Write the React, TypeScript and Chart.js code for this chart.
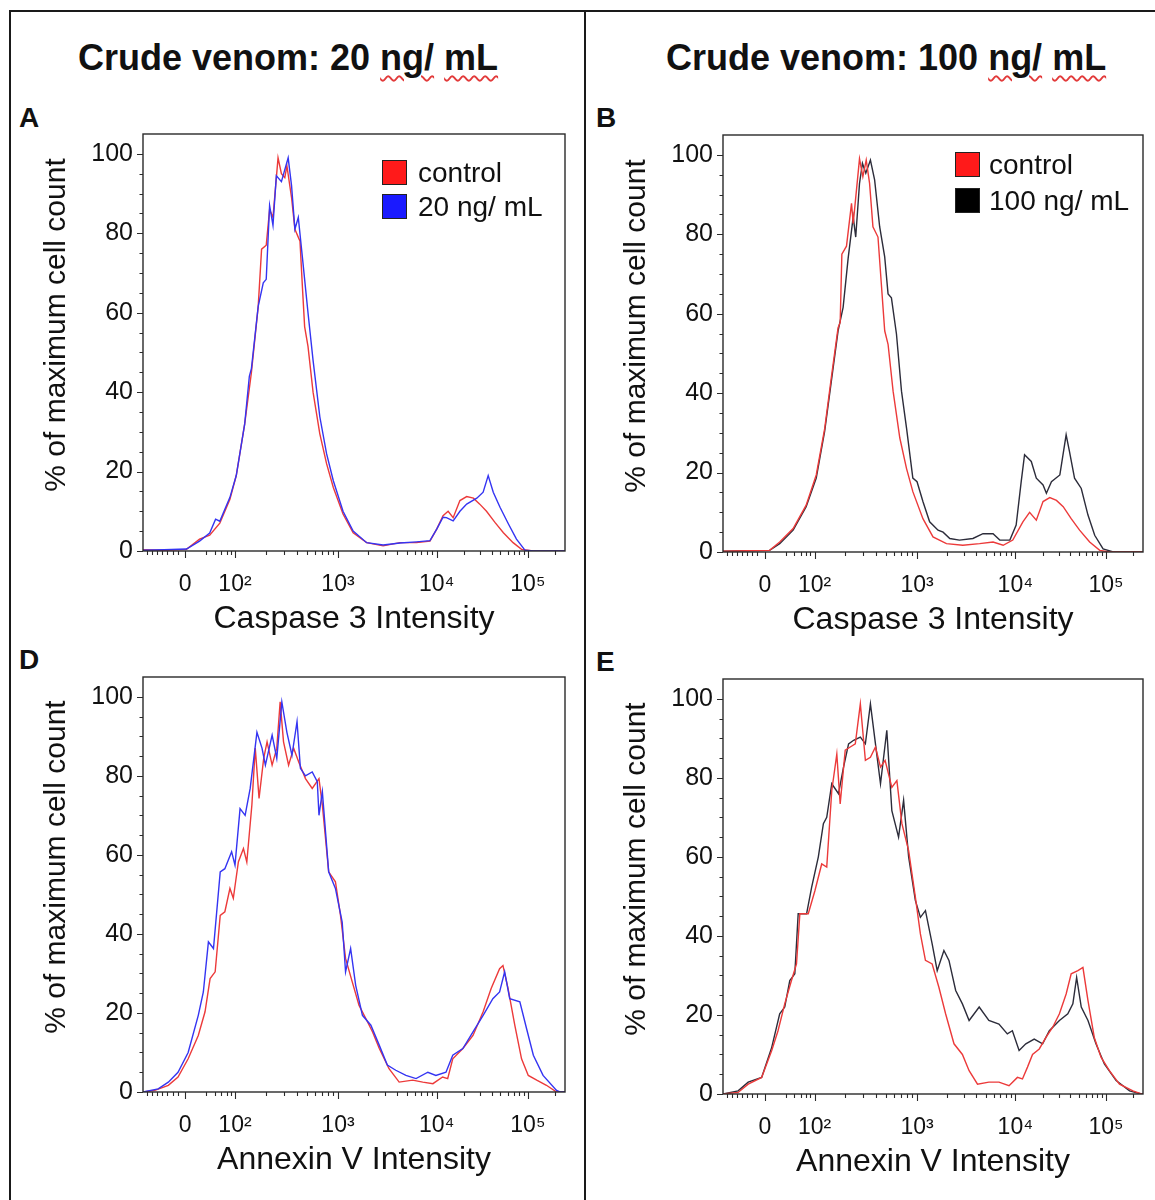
import React, { useEffect, useRef } from "react";
import { Chart, registerables } from "chart.js";

Chart.register(...registerables);

const FONT = "'Liberation Sans', Arial, Helvetica, sans-serif";

type Pt = [number, number];

// x axis in display channels (0..1000 of the biexponential flow scale)
const xTickChannels = [100, 218, 462, 696, 912];
const xTickLabels = ["0", "10²", "10³", "10⁴", "10⁵"];
const xLinearMinor = [10, 22, 34, 46, 58, 70, 82, 150, 170, 186, 198, 208];
const yTickValues = [0, 20, 40, 60, 80, 100];

const yTitle = "% of maximum cell count";
const caspaseTitle = "Caspase 3 Intensity";
const annexinTitle = "Annexin V Intensity";

const labelControl = "control";
const label20 = "20 ng/ mL";
const label100 = "100 ng/ mL";

const RED = "#ec3a3a";
const BLUE = "#3434f2";
const DARK = "#2c2c3a";

// Panel A – Caspase 3, 20 ng/mL
const caspControlA: Pt[] = [
  [0, 0.3], [50, 0.2], [103, 0.4], [134, 3], [158, 4], [182, 7], [206, 13], [221, 19], [241, 32], [257, 45],
  [273, 61.6], [281, 76], [292, 77], [300, 86], [308, 84], [320, 99], [328, 95], [336, 94], [341, 97], [352, 89],
  [360, 81], [372, 78], [378, 66], [383, 56.5], [391, 51.5], [403, 40], [419, 29.5], [435, 22], [451, 16], [474, 9.3],
  [498, 4.6], [530, 2.1], [569, 1.3], [609, 2.1], [648, 2.1], [680, 2.5], [696, 5.5], [711, 8.9], [723, 10], [735, 8.4],
  [751, 12.7], [767, 13.7], [783, 13.3], [798, 11.8], [814, 10], [834, 7.2], [854, 4.6], [877, 2.1], [897, 0.4], [925, 0], [1000, 0],
];
const caspTreated20: Pt[] = [
  [0, 0.2], [50, 0.3], [103, 0.5], [134, 2.5], [158, 4.5], [172, 8], [182, 7.5], [206, 13.5], [221, 19], [241, 32],
  [252, 44], [257, 46], [273, 61.6], [285, 67.5], [292, 68.4], [300, 87], [308, 82], [316, 94.5], [328, 93], [344, 99],
  [352, 92], [360, 81], [368, 84], [379, 72.6], [391, 60], [403, 48], [419, 33.8], [435, 24.5], [451, 17.7], [474, 10],
  [498, 5], [530, 2.1], [569, 1.5], [609, 2], [648, 2.3], [680, 2.6], [696, 5.5], [711, 8.5], [719, 8.4], [735, 7.6],
  [751, 10], [767, 11.8], [791, 13.3], [806, 14.8], [818, 19], [830, 14.8], [846, 11], [866, 6.8], [885, 3], [905, 0.2], [925, 0], [1000, 0],
];

// Panel B – Caspase 3, 100 ng/mL
const caspControlB: Pt[] = [
  [0, 0.2], [60, 0.3], [111, 0.4], [135, 2.5], [167, 5.9], [198, 11.8], [222, 19.4], [242, 31], [258, 44], [274, 56.5],
  [279, 57.8], [283, 75], [294, 77], [306, 87.8], [310, 82.7], [325, 99], [333, 94.5], [341, 98.7], [349, 92.8], [357, 81.9],
  [369, 79.3], [377, 67.5], [385, 55.7], [393, 52.3], [405, 40.5], [421, 28.7], [437, 21], [452, 15.2], [476, 8.4], [500, 3.8],
  [532, 2.1], [571, 1.7], [611, 2.1], [643, 2.5], [667, 1.7], [690, 3], [714, 7.6], [730, 10], [746, 8], [762, 12.7],
  [778, 13.7], [794, 13], [810, 11.4], [829, 8.4], [849, 5.5], [873, 2.5], [897, 0.4], [921, 0], [1000, 0],
];
const caspTreated100: Pt[] = [
  [0, 0.2], [60, 0.3], [111, 0.4], [135, 2.1], [167, 5.5], [198, 11.4], [222, 18.6], [242, 30.4], [258, 43], [274, 55.7],
  [286, 61.6], [298, 74], [310, 84.4], [316, 79.3], [325, 92.8], [332, 97.9], [340, 95.4], [351, 98.7], [361, 93.7], [373, 81.9],
  [385, 74.3], [393, 65], [401, 64], [413, 54.9], [425, 40.5], [437, 31.2], [452, 18.6], [462, 17.7], [476, 12.7], [492, 7.6],
  [512, 5.5], [524, 5], [540, 3.4], [563, 3], [595, 3.4], [619, 4.6], [643, 4.6], [659, 3], [683, 3], [698, 6.8],
  [710, 17.7], [718, 24.5], [734, 22.8], [746, 18.6], [762, 16.9], [770, 14.8], [782, 17.7], [802, 19.4], [817, 29.5], [825, 25.3],
  [837, 18.6], [853, 16], [869, 9.3], [885, 4.2], [905, 0.8], [929, 0], [1000, 0],
];

// Panel D – Annexin V, 20 ng/mL
const annexControlD: Pt[] = [
  [0, 0], [28, 0.4], [60, 1.7], [83, 3.8], [107, 8.4], [131, 14.3], [147, 20.3], [159, 28.7], [171, 30.4], [183, 44.7],
  [194, 45.6], [206, 51.5], [214, 49], [226, 58.2], [238, 61.6], [246, 58.2], [258, 72.6], [266, 87], [275, 74.3], [286, 84.4],
  [294, 88.6], [306, 82.7], [317, 87], [325, 98.7], [333, 88.6], [345, 82.7], [357, 87], [369, 83.5], [385, 79.3], [401, 76.8],
  [417, 79.3], [425, 72.6], [440, 55.7], [456, 53.2], [468, 44.7], [480, 33.8], [496, 27.8], [512, 21.9], [528, 18.6], [544, 15.2],
  [560, 11], [583, 5.9], [607, 2.5], [639, 3], [663, 2.5], [687, 2.1], [710, 3.8], [722, 3.4], [734, 8.4], [758, 11],
  [782, 14.3], [806, 20.3], [825, 26.2], [845, 31.2], [853, 32], [865, 26.2], [881, 16.9], [897, 8.4], [913, 4.2], [933, 3],
  [956, 1.7], [980, 0], [1000, 0],
];
const annexTreated20: Pt[] = [
  [0, 0], [36, 0.8], [60, 2.5], [83, 5], [107, 10], [131, 19.4], [143, 25.3], [155, 38], [167, 36.3], [183, 55.7],
  [194, 56.5], [210, 60.8], [218, 57.4], [230, 71.7], [242, 70], [254, 76.8], [270, 91], [282, 87], [290, 82.7], [306, 90.3],
  [317, 84.4], [329, 98.7], [341, 91], [353, 85.2], [365, 93.7], [373, 81.9], [385, 80], [401, 81], [413, 78.5], [417, 70],
  [425, 76], [440, 55.7], [456, 51.5], [472, 43], [480, 30.4], [492, 36.3], [504, 27], [520, 19.4], [540, 16.9], [560, 11.8],
  [579, 6.8], [599, 5.5], [623, 4.2], [647, 3.4], [675, 5], [694, 4.2], [718, 5], [734, 9.3], [758, 11], [782, 15.2],
  [806, 19.4], [829, 23.6], [845, 25.3], [857, 30.4], [869, 23.6], [893, 22.8], [909, 16], [925, 9.3], [948, 4.2], [980, 0.4],
  [988, 0], [1000, 0],
];

// Panel E – Annexin V, 100 ng/mL
const annexControlE: Pt[] = [
  [0, 0], [36, 0.4], [60, 2.5], [92, 4.2], [116, 11], [131, 16], [147, 22.8], [163, 28.7], [175, 32.9], [183, 45.6],
  [203, 45.6], [219, 51.5], [235, 58.2], [247, 57.4], [259, 76.8], [271, 86], [279, 73.4], [291, 87], [303, 87.8], [315, 88.6],
  [327, 98.7], [339, 84.4], [351, 85.2], [363, 87.8], [375, 82.7], [386, 84.4], [402, 77.6], [414, 79.3], [426, 68.4], [442, 61.6],
  [458, 49.8], [470, 40.5], [482, 33.8], [498, 32.9], [514, 27], [530, 20.3], [550, 12.7], [570, 10], [586, 5.9], [606, 2.5],
  [633, 3], [657, 3], [681, 2.1], [701, 4.2], [713, 3.8], [725, 6.8], [737, 10], [753, 11.4], [769, 14.3], [785, 16.9],
  [801, 20.3], [817, 25.3], [829, 30.4], [845, 31.2], [857, 32], [869, 23.6], [884, 14.3], [900, 9.3], [920, 5.9], [944, 2.5],
  [976, 0.8], [996, 0], [1000, 0],
];
const annexTreated100: Pt[] = [
  [0, 0], [36, 0.8], [60, 3], [92, 4.2], [116, 11.8], [135, 20.3], [147, 22], [159, 28.7], [171, 30.4], [179, 45.6],
  [199, 45.6], [211, 52.3], [227, 60], [239, 68.4], [247, 70], [259, 78.5], [275, 76], [287, 82.7], [299, 88.6], [311, 89.5],
  [327, 90.3], [339, 88.6], [351, 98.7], [363, 88.6], [375, 78.5], [390, 92], [402, 71.7], [418, 65], [430, 74.3], [442, 60],
  [458, 49], [470, 44.7], [482, 46.4], [498, 38], [510, 31.2], [526, 36.3], [538, 33.8], [554, 26.2], [570, 22.8], [586, 18.6],
  [610, 22], [633, 18.6], [657, 17.7], [677, 15.2], [689, 16], [705, 11], [721, 12.7], [741, 13.9], [761, 12.7], [777, 16],
  [801, 18.6], [821, 20.3], [833, 22.8], [842, 29.5], [853, 22], [869, 18.6], [888, 12.7], [908, 7.6], [936, 3.4], [968, 0.8],
  [996, 0], [1000, 0],
];

interface Series {
  label: string;
  color: string;
  data: Pt[];
  order: number;
}

interface PanelProps {
  L: number;
  T: number;
  R: number;
  B: number;
  xTitle: string;
  series: Series[];
}

function minorChannels(): number[] {
  const out = [...xLinearMinor];
  const dec = xTickChannels.slice(1);
  for (let k = 0; k < dec.length; k++) {
    const c0 = dec[k];
    const span = k < dec.length - 1 ? dec[k + 1] - c0 : c0 - dec[k - 1];
    for (let m = 2; m <= 9; m++) {
      const c = c0 + Math.log10(m) * span;
      if (c < 998) out.push(c);
    }
  }
  return out;
}

function Histogram({ L, T, R, B, xTitle, series }: PanelProps) {
  const ref = useRef<HTMLCanvasElement>(null);
  const padL = 113;
  const padT = 25;
  const padR = 10;
  const padB = 89;
  const cw = R - L + padL + padR;
  const ch = B - T + padT + padB;

  useEffect(() => {
    const frame = {
      id: "flowFrame",
      afterDraw(chart: any) {
        const { ctx, chartArea } = chart;
        const { left, right, top, bottom } = chartArea;
        const xs = chart.scales.x;
        const ys = chart.scales.y;
        ctx.save();
        ctx.strokeStyle = "#2a2a2a";
        ctx.lineWidth = 1.4;
        ctx.strokeRect(left, top, right - left, bottom - top);
        ctx.lineWidth = 1.1;
        ctx.beginPath();
        for (let v = 0; v <= 100; v += 5) {
          const py = Math.round(ys.getPixelForValue(v)) + 0.5;
          const len = v % 20 === 0 ? 6 : 3.5;
          ctx.moveTo(left - len, py);
          ctx.lineTo(left, py);
        }
        for (const c of xTickChannels) {
          const px = Math.round(xs.getPixelForValue(c)) + 0.5;
          ctx.moveTo(px, bottom);
          ctx.lineTo(px, bottom + 7);
        }
        for (const c of minorChannels()) {
          const px = Math.round(xs.getPixelForValue(c)) + 0.5;
          ctx.moveTo(px, bottom);
          ctx.lineTo(px, bottom + 4);
        }
        ctx.stroke();
        // y axis title
        ctx.fillStyle = "#111";
        ctx.font = `30px ${FONT}`;
        ctx.textAlign = "center";
        ctx.textBaseline = "middle";
        ctx.translate(left - 86, top + (bottom - top) * 0.458);
        ctx.rotate(-Math.PI / 2);
        ctx.fillText(yTitle, 0, 0);
        ctx.restore();
      },
    };

    const chart = new Chart(ref.current as HTMLCanvasElement, {
      type: "line",
      data: {
        datasets: series.map((s) => ({
          label: s.label,
          data: s.data as any,
          borderColor: s.color,
          backgroundColor: s.color,
          borderWidth: 1.4,
          pointRadius: 0,
          fill: false,
          tension: 0,
          order: s.order,
        })),
      },
      options: {
        animation: false,
        responsive: false,
        devicePixelRatio: 1,
        layout: { padding: { top: padT, right: padR, left: 0, bottom: 0 } },
        plugins: { legend: { display: false }, tooltip: { enabled: false } },
        scales: {
          x: {
            type: "linear",
            min: 0,
            max: 1000,
            grid: { display: false, drawTicks: false },
            border: { display: false },
            afterBuildTicks: (s: any) => {
              s.ticks = xTickChannels.map((v) => ({ value: v }));
            },
            afterFit: (s: any) => {
              s.height = padB;
            },
            ticks: {
              autoSkip: false,
              maxRotation: 0,
              padding: 20,
              color: "#111",
              font: { family: FONT, size: 23 },
              callback: (v: any) => {
                const i = xTickChannels.indexOf(Number(v));
                return i >= 0 ? xTickLabels[i] : "";
              },
            },
            title: {
              display: true,
              text: xTitle,
              color: "#111",
              font: { family: FONT, size: 32 },
              padding: { top: 0, bottom: 2 },
            },
          },
          y: {
            type: "linear",
            min: 0,
            max: 105,
            grid: { display: false, drawTicks: false },
            border: { display: false },
            afterBuildTicks: (s: any) => {
              s.ticks = yTickValues.map((v) => ({ value: v }));
            },
            afterFit: (s: any) => {
              s.width = padL;
            },
            ticks: {
              autoSkip: false,
              padding: 10,
              color: "#111",
              font: { family: FONT, size: 25 },
            },
          },
        },
      },
      plugins: [frame],
    });
    return () => chart.destroy();
  }, []);

  return (
    <canvas
      ref={ref}
      width={cw}
      height={ch}
      style={{ position: "absolute", left: L - padL, top: T - padT, width: cw, height: ch }}
    />
  );
}

const wavy: React.CSSProperties = {
  textDecorationLine: "underline",
  textDecorationStyle: "wavy",
  textDecorationColor: "#e23a3a",
  textDecorationThickness: "1.5px",
  textUnderlineOffset: "5px",
};

function Title({ left, top, dose }: { left: number; top: number; dose: string }) {
  return (
    <div
      style={{
        position: "absolute",
        left,
        top,
        fontSize: 36,
        lineHeight: "36px",
        fontWeight: "bold",
        whiteSpace: "nowrap",
      }}
    >
      Crude venom: {dose} <span style={wavy}>ng/</span> <span style={wavy}>mL</span>
    </div>
  );
}

function Letter({ left, top, text }: { left: number; top: number; text: string }) {
  return (
    <div style={{ position: "absolute", left, top, fontSize: 28, lineHeight: "28px", fontWeight: "bold" }}>
      {text}
    </div>
  );
}

function LegendItem({ left, top, color, text, textLeft }: { left: number; top: number; color: string; text: string; textLeft: number }) {
  return (
    <>
      <div
        style={{
          position: "absolute",
          left,
          top,
          width: 25,
          height: 25,
          background: color,
          border: "1.5px solid #222",
          boxSizing: "border-box",
        }}
      />
      <div
        style={{
          position: "absolute",
          left: textLeft,
          top: top - 1,
          fontSize: 28,
          lineHeight: "28px",
          whiteSpace: "nowrap",
        }}
      >
        {text}
      </div>
    </>
  );
}

export default function App() {
  const line = (l: number, t: number, w: number, h: number) => (
    <div style={{ position: "absolute", left: l, top: t, width: w, height: h, background: "#1a1a1a" }} />
  );
  return (
    <div
      style={{
        position: "absolute",
        left: 0,
        top: 0,
        width: 1155,
        height: 1200,
        overflow: "hidden",
        background: "#fff",
        fontFamily: FONT,
        color: "#111",
      }}
    >
      {line(9, 10, 1146, 2)}
      {line(9, 10, 2, 1190)}
      {line(584, 10, 2, 1190)}

      <Title left={78} top={40} dose="20" />
      <Title left={666} top={40} dose="100" />

      <Letter left={19} top={104} text="A" />
      <Letter left={596} top={104} text="B" />
      <Letter left={19} top={646} text="D" />
      <Letter left={596} top={648} text="E" />

      <Histogram
        L={143}
        T={134}
        R={565}
        B={551}
        xTitle={caspaseTitle}
        series={[
          { label: labelControl, color: RED, data: caspControlA, order: 1 },
          { label: label20, color: BLUE, data: caspTreated20, order: 0 },
        ]}
      />
      <Histogram
        L={723}
        T={135}
        R={1143}
        B={552}
        xTitle={caspaseTitle}
        series={[
          { label: labelControl, color: RED, data: caspControlB, order: 0 },
          { label: label100, color: DARK, data: caspTreated100, order: 1 },
        ]}
      />
      <Histogram
        L={143}
        T={677}
        R={565}
        B={1092}
        xTitle={annexinTitle}
        series={[
          { label: labelControl, color: RED, data: annexControlD, order: 1 },
          { label: label20, color: BLUE, data: annexTreated20, order: 0 },
        ]}
      />
      <Histogram
        L={723}
        T={679}
        R={1143}
        B={1094}
        xTitle={annexinTitle}
        series={[
          { label: labelControl, color: RED, data: annexControlE, order: 0 },
          { label: label100, color: DARK, data: annexTreated100, order: 1 },
        ]}
      />

      <LegendItem left={382} top={160} color="#ff1a1a" text={labelControl} textLeft={418} />
      <LegendItem left={382} top={194} color="#1a1aff" text={label20} textLeft={418} />
      <LegendItem left={955} top={152} color="#ff1a1a" text={labelControl} textLeft={989} />
      <LegendItem left={955} top={188} color="#000000" text={label100} textLeft={989} />
    </div>
  );
}
